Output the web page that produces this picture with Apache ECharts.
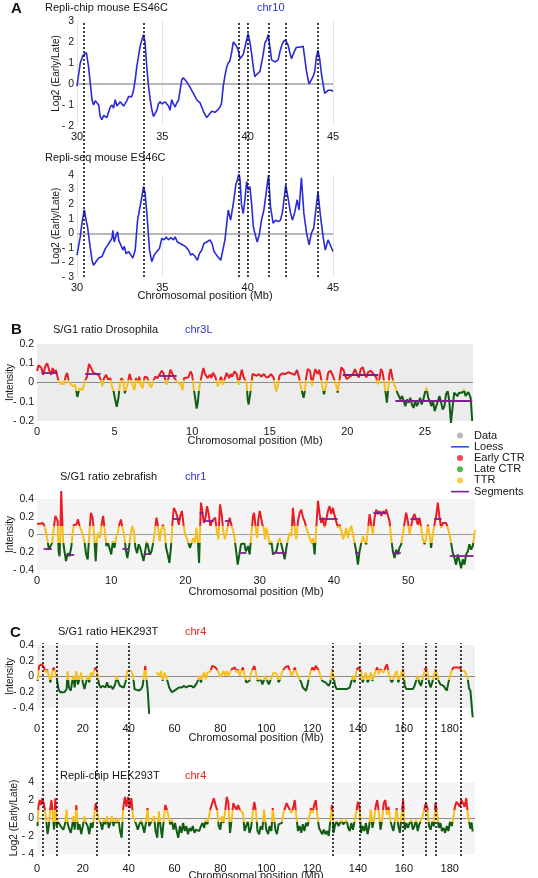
<!DOCTYPE html>
<html><head><meta charset="utf-8">
<script src="https://cdn.jsdelivr.net/npm/echarts@6/dist/echarts.min.js"></script>
<style>html,body{margin:0;padding:0;background:#fff}#c{width:538px;height:878px}</style>
</head><body><div id="c"></div>
<script>
// ---------------- DATA ----------------
const chipMouse = [[30.00,-0.1],[30.19,1.0],[30.35,1.35],[30.45,1.4],[30.55,1.5],[30.68,0.8],[30.88,-0.75],[30.97,-1.0],[31.07,-0.8],[31.17,-0.75],[31.27,-1.0],[31.36,-1.55],[31.46,-1.7],[31.56,-1.5],[31.66,-1.55],[31.75,-1.6],[31.85,-1.35],[31.95,-1.1],[32.05,-1.0],[32.14,-1.15],[32.24,-0.75],[32.34,-1.05],[32.44,-1.0],[32.53,-0.85],[32.63,-0.8],[32.73,-1.05],[32.82,-1.0],[32.92,-0.8],[33.02,-0.6],[33.11,-0.65],[33.21,-0.6],[33.31,-0.3],[33.41,0.2],[33.50,0.8],[33.60,1.3],[33.70,1.8],[33.80,2.1],[33.90,2.35],[33.99,1.95],[34.09,0.8],[34.19,-0.1],[34.29,-0.75],[34.38,-1.2],[34.48,-1.55],[34.58,-1.4],[34.68,-1.25],[34.77,-0.95],[34.87,-0.85],[34.97,-0.95],[35.07,-1.0],[35.16,-0.85],[35.26,-0.9],[35.36,-1.05],[35.45,-1.25],[35.55,-0.75],[35.65,-0.95],[35.75,-1.1],[35.84,-0.9],[35.94,-0.8],[36.04,-0.3],[36.14,0.2],[36.23,0.3],[36.33,0.25],[36.43,0.1],[36.53,0.05],[36.62,-0.15],[36.72,-0.3],[36.82,-0.45],[36.92,-0.6],[37.01,-0.75],[37.11,-0.8],[37.21,-0.9],[37.31,-1.1],[37.40,-1.3],[37.50,-1.45],[37.60,-1.6],[37.70,-1.5],[37.79,-1.4],[37.89,-1.3],[37.99,-1.25],[38.09,-1.35],[38.18,-1.3],[38.28,-1.2],[38.38,-1.1],[38.47,-0.9],[38.57,-0.1],[38.67,0.4],[38.77,0.8],[38.86,1.0],[38.96,1.1],[39.06,1.5],[39.16,2.0],[39.25,1.95],[39.35,1.8],[39.45,1.6],[39.55,1.2],[39.64,1.3],[39.74,1.4],[39.84,1.75],[39.94,2.1],[40.03,2.4],[40.13,2.0],[40.23,1.45],[40.33,0.8],[40.42,0.35],[40.52,0.45],[40.62,0.5],[40.72,0.6],[40.81,0.65],[40.91,1.4],[41.01,1.95],[41.11,2.1],[41.20,2.35],[41.30,1.8],[41.40,1.15],[41.50,1.1],[41.59,1.05],[41.69,1.1],[41.79,1.15],[41.88,1.5],[41.98,1.8],[42.08,2.0],[42.18,2.1],[42.27,2.0],[42.37,1.85],[42.47,1.5],[42.57,1.2],[42.66,1.4],[42.76,1.6],[42.86,1.75],[42.96,1.7],[43.05,1.75],[43.15,1.7],[43.25,1.8],[43.35,1.2],[43.44,0.65],[43.54,0.2],[43.60,0.0],[43.73,0.2],[43.83,0.35],[43.93,0.6],[44.03,1.3],[44.12,1.6],[44.22,1.2],[44.32,0.5],[44.42,0.0],[44.51,-0.45],[44.61,-0.4],[44.71,-0.3],[44.80,-0.35],[44.90,-0.3],[45.00,-0.35]];
const seqMouse = [[30.00,-1.5],[30.19,-0.25],[30.29,0.7],[30.43,1.6],[30.55,0.8],[30.62,0.45],[30.74,-0.7],[30.88,-1.85],[30.97,-2.2],[31.17,-1.85],[31.27,-1.7],[31.46,-1.6],[31.56,-1.5],[31.66,-1.05],[31.75,-0.9],[31.91,-0.6],[32.05,-0.35],[32.10,0.2],[32.18,-0.6],[32.30,-0.1],[32.38,0.1],[32.45,-0.5],[32.57,-0.8],[32.69,-1.15],[32.77,-0.9],[32.88,-1.4],[33.02,-1.25],[33.16,-1.5],[33.27,-1.7],[33.41,-1.15],[33.55,0.9],[33.66,1.0],[33.80,2.5],[33.90,3.2],[33.99,2.75],[34.09,1.4],[34.25,-1.15],[34.38,-1.95],[34.52,-1.5],[34.68,-1.25],[34.83,-1.05],[34.97,-0.35],[35.10,-0.45],[35.22,-0.25],[35.36,-0.45],[35.49,-0.3],[35.65,-0.45],[35.75,-0.25],[35.88,-0.6],[36.04,-0.7],[36.20,-0.8],[36.35,-0.9],[36.53,-1.15],[36.66,-1.5],[36.78,-1.4],[36.92,-1.6],[37.05,-1.85],[37.17,-1.4],[37.31,-1.15],[37.44,-0.7],[37.60,-0.6],[37.79,-0.45],[37.91,-0.7],[38.03,-1.25],[38.18,-1.5],[38.28,-1.6],[38.42,-1.85],[38.53,-1.85],[38.67,-0.45],[38.86,1.6],[39.00,0.9],[39.16,2.05],[39.31,3.35],[39.41,3.7],[39.49,4.15],[39.55,3.7],[39.64,1.95],[39.74,1.35],[39.84,2.3],[39.94,3.55],[40.03,3.0],[40.13,3.2],[40.23,2.05],[40.33,0.45],[40.42,0.0],[40.56,-0.6],[40.68,-0.1],[40.81,0.9],[40.95,1.6],[41.07,2.65],[41.22,4.0],[41.34,1.8],[41.49,0.7],[41.65,0.9],[41.79,0.8],[41.92,0.9],[42.04,1.45],[42.23,3.3],[42.37,2.4],[42.51,1.4],[42.62,0.9],[42.76,1.45],[42.90,2.3],[43.01,1.6],[43.15,3.8],[43.29,1.4],[43.44,0.1],[43.60,-0.8],[43.73,0.0],[43.87,0.35],[44.12,2.85],[44.26,1.25],[44.42,-0.25],[44.55,-1.15],[44.71,-0.45],[44.84,-0.8],[45.00,-1.25]];
const dashMouse = [30.39, 33.9, 39.47, 40.03, 41.22, 42.21, 44.09];

const droso = [[0.0,0.06],[0.1,0.09],[0.29,0.075],[0.39,0.04],[0.54,0.085],[0.66,0.1],[0.81,0.058],[0.91,0.04],[1.01,0.075],[1.12,0.05],[1.22,0.065],[1.36,0.014],[1.53,-0.01],[1.63,0.005],[1.74,-0.012],[1.84,0.03],[1.94,0.05],[2.05,0.005],[2.15,-0.004],[2.31,-0.02],[2.46,-0.012],[2.60,-0.075],[2.73,-0.03],[2.81,-0.02],[2.93,-0.04],[3.08,0.005],[3.22,0.03],[3.35,0.096],[3.49,0.075],[3.64,0.05],[3.80,0.044],[3.97,0.04],[4.11,0.014],[4.21,-0.02],[4.32,0.023],[4.46,0.04],[4.59,0.014],[4.73,0.023],[4.83,-0.02],[4.94,-0.047],[5.04,-0.09],[5.14,-0.126],[5.25,-0.08],[5.35,-0.004],[5.45,0.023],[5.56,0.005],[5.66,-0.056],[5.74,-0.065],[5.83,-0.012],[5.97,0.044],[6.07,0.014],[6.18,-0.02],[6.28,-0.04],[6.38,0.023],[6.49,-0.004],[6.59,0.03],[6.69,-0.012],[6.80,-0.03],[6.94,0.03],[7.11,0.026],[7.21,-0.004],[7.36,-0.026],[7.48,0.005],[7.62,0.03],[7.77,0.023],[7.89,0.04],[8.04,0.061],[8.14,0.05],[8.24,0.023],[8.35,-0.012],[8.45,0.014],[8.60,0.067],[8.72,0.058],[8.86,0.023],[9.01,0.005],[9.13,0.014],[9.28,-0.012],[9.38,-0.04],[9.48,0.023],[9.59,0.03],[9.75,0.026],[9.90,0.058],[10.00,0.04],[10.10,-0.028],[10.21,-0.09],[10.29,-0.135],[10.37,-0.1],[10.45,-0.03],[10.58,0.023],[10.72,0.075],[10.83,0.044],[10.99,0.023],[11.14,0.04],[11.24,0.023],[11.34,0.05],[11.49,0.03],[11.65,-0.02],[11.76,0.005],[11.86,0.03],[12.00,-0.012],[12.11,0.023],[12.23,0.05],[12.38,0.023],[12.48,0.044],[12.58,0.03],[12.73,0.058],[12.89,0.04],[13.00,-0.012],[13.10,0.03],[13.20,0.067],[13.31,0.03],[13.41,0.023],[13.51,-0.004],[13.58,-0.088],[13.64,-0.114],[13.74,-0.06],[13.89,0.044],[13.99,0.053],[14.16,0.035],[14.31,0.044],[14.45,0.03],[14.62,0.044],[14.79,0.026],[14.94,0.03],[15.08,0.044],[15.19,0.047],[15.25,0.026],[15.36,-0.026],[15.42,-0.044],[15.50,-0.026],[15.63,0.035],[15.78,0.047],[15.99,0.044],[16.19,0.053],[16.40,0.047],[16.61,0.04],[16.76,0.065],[16.89,0.026],[16.97,-0.009],[17.10,-0.053],[17.18,-0.079],[17.26,-0.044],[17.35,0.026],[17.45,0.07],[17.60,0.061],[17.73,-0.018],[17.81,0.026],[17.94,0.07],[18.08,0.044],[18.19,0.065],[18.29,0.03],[18.40,-0.026],[18.50,-0.061],[18.56,-0.053],[18.65,-0.009],[18.77,0.053],[18.92,0.061],[19.07,0.035],[19.19,0.026],[19.30,-0.018],[19.38,-0.053],[19.49,0.009],[19.61,0.079],[19.76,0.065],[19.86,0.035],[19.97,0.018],[20.07,0.009],[20.24,0.035],[20.39,0.047],[20.49,0.07],[20.62,0.044],[20.74,0.026],[20.87,0.07],[21.00,0.079],[21.12,0.044],[21.23,0.026],[21.33,0.053],[21.50,0.061],[21.65,0.047],[21.75,0.053],[21.86,0.026],[21.96,-0.009],[22.07,0.018],[22.17,0.07],[22.27,0.053],[22.38,0.0],[22.48,-0.061],[22.55,-0.105],[22.63,-0.044],[22.71,0.044],[22.80,0.07],[22.90,0.026],[23.01,-0.009],[23.11,-0.026],[23.22,-0.053],[23.32,-0.044],[23.43,-0.088],[23.53,-0.07],[23.64,-0.096],[23.74,-0.123],[23.85,-0.088],[23.95,-0.105],[24.06,-0.079],[24.16,-0.114],[24.27,-0.132],[24.37,-0.096],[24.48,-0.123],[24.58,-0.105],[24.69,-0.079],[24.79,-0.114],[24.90,-0.088],[25.00,-0.053],[25.10,-0.026],[25.21,-0.079],[25.31,-0.096],[25.42,-0.123],[25.52,-0.096],[25.63,-0.149],[25.73,-0.14],[25.84,-0.096],[25.94,-0.07],[26.05,-0.105],[26.15,-0.14],[26.26,-0.123],[26.36,-0.061],[26.47,-0.044],[26.57,-0.096],[26.68,-0.21],[26.78,-0.132],[26.89,-0.053],[26.99,-0.044],[27.10,-0.07],[27.20,-0.053],[27.31,-0.061],[27.41,-0.053],[27.52,-0.035],[27.62,-0.07],[27.8,-0.05],[27.95,-0.08],[28.05,-0.2]];
const drosoSegments = [[0.3,1.3,0.05],[3.1,4.1,0.045],[7.9,9.0,0.035],[19.7,22.0,0.04],[23.1,28.05,-0.093]];

const zebra = [[0.0,0.12],[0.2,0.11],[0.43,0.12],[0.74,0.13],[0.96,0.105],[1.17,0.04],[1.39,-0.055],[1.61,-0.17],[1.83,-0.15],[2.04,-0.095],[2.26,0.075],[2.48,0.21],[2.61,0.23],[2.78,0.15],[2.91,-0.19],[3.04,-0.245],[3.17,0.11],[3.26,0.49],[3.39,0.19],[3.52,-0.075],[3.70,-0.19],[3.91,-0.3],[4.13,-0.21],[4.35,-0.245],[4.61,-0.15],[4.78,0.0],[4.96,0.11],[5.13,0.13],[5.30,0.11],[5.52,0.17],[5.74,0.095],[5.96,0.11],[6.17,0.0],[6.39,-0.075],[6.61,-0.225],[6.83,-0.28],[7.04,0.0],[7.26,0.245],[7.48,0.19],[7.70,0.0],[7.91,-0.3],[8.04,-0.075],[8.26,0.02],[8.48,-0.04],[8.70,0.11],[8.91,0.21],[9.13,0.04],[9.35,-0.13],[9.57,-0.095],[9.78,-0.11],[10.00,-0.225],[10.22,-0.075],[10.43,-0.15],[10.65,-0.04],[10.87,0.02],[11.09,0.11],[11.30,0.17],[11.52,0.075],[11.74,0.0],[11.96,-0.17],[12.17,-0.265],[12.39,-0.15],[12.61,0.0],[12.83,0.095],[13.04,0.04],[13.26,-0.15],[13.48,-0.21],[13.70,-0.11],[13.91,-0.15],[14.13,-0.225],[14.35,-0.3],[14.57,-0.19],[14.78,-0.075],[15.00,-0.15],[15.22,-0.225],[15.43,-0.19],[15.65,-0.095],[15.87,0.04],[16.09,0.19],[16.30,0.095],[16.52,-0.075],[16.74,0.055],[16.96,0.11],[17.17,0.055],[17.39,-0.15],[17.61,-0.225],[17.83,-0.32],[18.04,-0.15],[18.26,0.15],[18.43,0.3],[18.65,0.265],[18.87,0.21],[19.09,0.11],[19.30,0.21],[19.52,0.265],[19.74,0.11],[19.96,0.0],[20.17,-0.04],[20.39,-0.095],[20.61,-0.15],[20.83,-0.13],[21.04,-0.04],[21.26,-0.095],[21.48,0.075],[21.70,-0.11],[21.83,-0.32],[21.96,0.04],[22.09,0.36],[22.26,0.265],[22.48,0.13],[22.70,0.19],[22.91,0.32],[23.13,0.23],[23.35,0.095],[23.57,0.15],[23.78,0.17],[24.00,0.19],[24.22,0.04],[24.43,-0.055],[24.65,0.34],[24.87,0.23],[25.09,0.04],[25.30,-0.055],[25.52,-0.075],[25.74,0.11],[25.96,0.19],[26.17,0.11],[26.39,0.055],[26.61,-0.04],[26.83,-0.19],[27.04,-0.34],[27.26,-0.225],[27.48,-0.11],[27.70,-0.13],[27.91,-0.095],[28.13,-0.19],[28.43,-0.13],[28.65,-0.225],[28.88,0.0],[29.10,0.21],[29.24,0.245],[29.46,0.075],[29.64,-0.04],[29.82,0.17],[30.00,0.265],[30.18,0.19],[30.36,0.11],[30.54,0.075],[30.72,-0.055],[30.90,0.075],[31.12,0.0],[31.35,-0.11],[31.57,-0.075],[31.79,-0.225],[32.02,-0.21],[32.24,-0.19],[32.47,-0.095],[32.69,-0.04],[32.91,-0.11],[33.14,-0.19],[33.36,-0.28],[33.59,-0.15],[33.81,-0.055],[34.04,0.02],[34.26,-0.02],[34.48,0.3],[34.71,0.075],[34.93,-0.055],[35.16,0.15],[35.38,0.245],[35.61,0.28],[35.83,0.19],[36.05,0.15],[36.28,0.075],[36.50,0.02],[36.73,-0.04],[36.95,-0.095],[37.17,-0.04],[37.40,-0.225],[37.62,0.075],[37.85,0.38],[38.07,0.23],[38.30,0.13],[38.52,0.19],[38.74,0.075],[38.97,0.17],[39.19,0.265],[39.42,0.32],[39.64,0.23],[39.87,0.3],[40.09,0.21],[40.31,0.19],[40.54,0.075],[40.76,0.11],[40.99,0.04],[41.21,-0.055],[41.43,0.0],[41.66,0.075],[41.88,-0.04],[42.11,0.055],[42.33,0.095],[42.56,0.0],[42.78,-0.095],[43.00,-0.19],[43.23,-0.34],[43.45,-0.19],[43.68,-0.095],[43.90,-0.02],[44.13,-0.075],[44.35,-0.11],[44.57,0.04],[44.80,0.23],[45.02,0.11],[45.25,0.0],[45.47,0.19],[45.70,0.28],[45.92,0.23],[46.14,0.265],[46.37,0.21],[46.59,0.265],[46.82,0.23],[47.04,0.28],[47.26,0.3],[47.49,0.15],[47.71,-0.04],[47.94,-0.19],[48.16,-0.265],[48.39,-0.17],[48.61,-0.225],[48.83,-0.15],[49.06,-0.11],[49.28,0.0],[49.51,0.13],[49.73,0.245],[49.96,0.15],[50.18,0.0],[50.40,0.095],[50.63,0.19],[50.85,0.23],[51.08,0.17],[51.30,0.11],[51.52,0.19],[51.75,0.075],[51.97,-0.055],[52.20,-0.11],[52.42,-0.04],[52.65,0.11],[52.87,0.0],[53.09,-0.15],[53.32,0.0],[53.54,0.11],[53.77,0.21],[53.99,0.36],[54.22,0.19],[54.44,0.075],[54.66,0.13],[54.89,0.11],[55.11,0.13],[55.34,0.075],[55.56,0.0],[55.78,-0.095],[56.01,-0.21],[56.23,-0.265],[56.46,-0.34],[56.68,-0.225],[56.91,-0.3],[57.13,-0.38],[57.35,-0.28],[57.58,-0.34],[57.80,-0.225],[58.03,-0.19],[58.25,-0.11],[58.48,-0.17],[58.70,-0.13],[59.0,0.05]];
const zebraSegments = [[0.9,2.0,-0.16],[4.0,5.0,-0.23],[11.5,12.4,-0.16],[14.4,15.2,-0.22],[18.3,19.3,0.18],[21.9,22.4,0.24],[22.5,23.8,0.15],[25.3,26.0,0.15],[27.4,28.2,-0.21],[31.8,33.6,-0.21],[38.0,40.5,0.18],[42.9,43.5,-0.2],[45.3,47.1,0.24],[47.9,49.0,-0.2],[50.3,51.5,0.18],[53.5,54.5,0.18],[55.6,58.8,-0.24]];

const hekSG1 = [[0.22,-0.055],[0.93,0.135],[2.06,0.155],[3.04,0.115],[3.75,0.05],[4.45,0.09],[5.16,0.01],[5.87,-0.075],[6.57,0.05],[7.28,0.115],[7.98,0.135],[8.69,-0.035],[9.39,-0.16],[10.10,-0.2],[10.80,-0.225],[11.93,-0.2],[12.92,-0.16],[13.34,0.07],[13.91,-0.14],[14.75,-0.18],[15.74,0.01],[16.45,-0.14],[17.15,0.07],[17.86,-0.1],[18.56,-0.12],[19.27,0.05],[19.98,-0.075],[20.68,-0.16],[21.39,-0.18],[22.09,0.01],[22.80,-0.075],[23.50,0.05],[24.21,0.01],[24.91,0.07],[25.62,0.115],[26.32,0.05],[27.03,-0.1],[27.74,-0.14],[28.86,-0.12],[29.85,-0.14],[30.56,-0.075],[31.26,-0.14],[32.25,-0.12],[33.10,-0.16],[34.09,-0.1],[34.79,0.01],[35.50,-0.075],[36.20,-0.12],[36.91,-0.12],[37.90,-0.14],[38.74,-0.055],[39.31,0.07],[40.15,0.09],[41.14,0.07],[41.85,0.01],[42.55,-0.16],[43.26,-0.18],[44.39,-0.18],[45.37,-0.16],[46.08,-0.12],[46.79,0.05],[47.21,0.135],[47.77,-0.035],[48.34,-0.2],[48.90,-0.475],[50.5,'-'],[52.01,0.05],[52.85,0.07],[53.42,0.01],[53.98,0.07],[54.83,-0.055],[55.67,0.05],[56.24,0.07],[57.08,-0.075],[57.65,-0.14],[58.78,-0.2],[59.91,-0.18],[60.89,-0.16],[61.88,-0.14],[63.01,-0.14],[64.14,-0.12],[65.13,-0.14],[66.12,-0.12],[67.25,-0.12],[68.37,-0.14],[69.36,-0.1],[70.07,-0.055],[70.77,0.01],[71.48,-0.075],[72.18,0.01],[72.89,0.05],[73.59,-0.035],[74.30,0.05],[75.01,0.03],[75.71,0.07],[76.42,0.135],[77.12,0.155],[77.83,0.115],[78.53,0.09],[79.24,0.05],[79.94,-0.01],[80.65,0.03],[81.35,0.07],[82.06,0.01],[82.76,0.07],[83.47,0.01],[84.18,0.03],[84.88,0.09],[85.59,0.07],[86.29,0.115],[87.00,0.05],[87.70,0.09],[88.41,0.01],[89.11,0.07],[89.82,0.115],[90.52,0.01],[91.23,-0.075],[91.94,-0.1],[92.64,-0.055],[93.35,0.05],[94.05,0.07],[94.76,0.135],[95.46,0.05],[96.17,-0.055],[96.87,-0.075],[97.58,-0.035],[98.28,-0.1],[98.99,-0.075],[99.70,0.01],[100.40,-0.055],[101.11,-0.1],[101.81,-0.075],[102.52,0.01],[103.22,0.05],[103.93,0.07],[104.63,0.03],[105.34,-0.075],[106.04,-0.035],[106.75,0.05],[107.46,0.07],[108.16,0.115],[108.87,0.09],[109.57,0.135],[110.28,0.07],[110.98,0.01],[111.69,0.05],[112.39,0.115],[113.10,0.05],[113.81,0.01],[114.51,-0.01],[115.22,-0.075],[115.92,-0.14],[116.63,-0.16],[117.33,-0.18],[118.04,-0.1],[118.74,0.01],[119.45,0.07],[120.15,0.115],[120.86,0.07],[121.57,0.135],[122.27,0.155],[122.98,0.07],[123.68,-0.01],[124.39,-0.055],[125.09,-0.035],[125.80,-0.075],[126.50,-0.1],[127.21,-0.12],[127.92,-0.075],[128.62,0.09],[129.33,-0.01],[130.03,-0.12],[130.74,-0.16],[131.44,-0.18],[132.15,-0.16],[132.85,-0.18],[133.56,-0.16],[134.26,-0.18],[134.97,-0.16],[135.68,-0.16],[136.38,-0.14],[137.09,-0.12],[137.79,0.01],[138.50,-0.075],[139.20,0.05],[139.91,0.115],[140.61,0.135],[141.32,0.07],[142.02,-0.075],[142.73,-0.055],[143.44,0.05],[144.14,-0.075],[144.85,-0.035],[145.55,0.05],[146.26,-0.055],[146.96,0.01],[147.67,0.07],[148.37,0.115],[149.08,0.03],[149.79,0.09],[150.49,0.07],[151.20,0.05],[151.90,0.115],[152.61,0.155],[153.31,0.05],[154.02,-0.035],[154.72,-0.075],[155.43,-0.035],[156.14,0.03],[156.84,0.07],[157.55,-0.075],[158.25,-0.1],[158.96,0.05],[159.66,0.09],[160.37,-0.12],[161.07,-0.16],[161.78,-0.14],[162.49,-0.16],[163.19,-0.14],[163.90,-0.16],[164.60,-0.12],[165.31,-0.1],[166.01,0.01],[166.72,-0.075],[167.42,-0.12],[168.13,-0.035],[168.84,0.05],[169.54,0.115],[170.25,0.05],[170.95,-0.075],[171.66,-0.14],[172.36,-0.075],[173.07,0.01],[173.77,0.09],[174.48,0.01],[175.19,-0.055],[175.89,-0.1],[176.60,-0.075],[177.30,-0.12],[178.01,-0.14],[178.71,-0.18],[179.42,-0.075],[180.12,0.01],[180.83,0.07],[181.54,0.115],[182.24,0.09],[182.95,0.115],[183.65,0.09],[184.36,0.115],[185.06,0.07],[185.77,0.09],[186.47,0.07],[187.18,0.05],[187.8,-0.02],[188.4,-0.15],[189.0,-0.18],[189.5,-0.2],[190.0,-0.52]];
const hekChip = [[0.22,-0.9],[0.64,1.3],[1.21,2.0],[1.77,1.45],[2.34,2.2],[2.90,1.65],[3.47,0.9],[4.03,-0.2],[4.60,-1.8],[5.16,-0.9],[5.72,0.9],[6.29,2.0],[6.85,0.55],[7.42,-1.3],[7.98,2.2],[8.55,-0.9],[9.11,-0.35],[9.68,-0.55],[10.24,-0.9],[10.80,-0.7],[11.51,-1.3],[12.21,-0.7],[12.92,0.9],[13.34,-0.55],[13.91,-1.1],[14.75,-1.65],[15.32,-0.9],[15.88,0.2],[16.45,-1.3],[17.15,1.45],[17.86,-1.3],[18.56,-0.7],[19.27,-1.8],[19.98,-0.9],[20.68,0.2],[21.39,-0.55],[22.09,-0.9],[22.80,-1.8],[23.50,-0.55],[24.21,-1.1],[24.91,0.2],[25.62,1.65],[26.32,0.55],[27.03,-0.2],[27.74,-0.55],[28.44,-1.3],[29.15,-0.2],[29.85,-0.7],[30.56,0.2],[31.26,-1.1],[31.97,-0.55],[32.68,0.2],[33.38,-0.9],[34.09,-0.2],[34.79,-0.55],[35.50,0.0],[36.20,-1.45],[36.91,-2.2],[37.61,1.1],[38.32,2.35],[39.02,1.25],[39.73,2.35],[40.44,1.1],[41.14,2.2],[41.85,0.2],[42.55,-0.2],[43.26,-0.7],[43.96,-1.3],[44.67,-0.7],[45.37,-0.2],[46.08,-0.9],[46.79,-1.65],[47.49,-0.55],[48.20,1.1],[48.90,-0.9],[49.61,-1.1],[50.31,-0.2],[51.02,0.2],[51.72,-1.45],[52.43,-2.2],[53.14,0.75],[53.84,-0.9],[54.55,-2.2],[55.25,-0.2],[55.96,1.45],[56.66,0.9],[57.37,0.2],[58.07,-0.7],[58.78,-0.2],[59.49,-1.3],[60.19,-0.55],[60.90,-1.45],[61.60,-2.2],[62.31,-0.9],[63.01,-1.65],[63.72,-0.55],[64.42,-1.45],[65.13,-0.9],[65.84,-1.8],[66.54,-1.1],[67.25,-1.45],[67.95,-0.9],[68.66,-1.65],[69.36,-1.3],[70.07,-1.1],[70.77,-1.45],[71.48,-0.9],[72.18,-0.55],[72.89,-1.1],[73.59,-0.2],[74.30,-0.7],[75.01,0.2],[75.71,1.1],[76.42,1.65],[77.12,2.2],[77.83,1.45],[78.53,0.9],[79.24,-0.9],[79.94,-1.3],[80.65,0.2],[81.35,-0.55],[82.06,0.75],[82.76,2.35],[83.47,1.65],[84.18,-1.65],[84.88,-0.2],[85.59,1.65],[86.29,1.25],[87.00,0.9],[87.70,1.45],[88.41,0.9],[89.11,1.1],[89.82,0.55],[90.52,-1.45],[91.23,-0.9],[91.94,-0.35],[92.64,-1.65],[93.35,-1.1],[94.05,0.55],[94.76,1.8],[95.46,0.75],[96.17,-1.45],[96.87,-1.8],[97.58,-0.9],[98.28,-1.3],[98.99,0.9],[99.41,1.1],[99.98,-1.3],[100.82,-1.8],[101.39,-0.9],[102.24,-1.45],[102.80,1.1],[103.37,0.0],[103.93,-1.3],[104.63,-1.8],[105.34,-0.7],[106.04,-0.9],[106.75,-0.55],[107.46,0.55],[108.16,1.1],[108.87,1.65],[109.57,1.25],[110.28,0.9],[110.98,0.55],[111.69,1.1],[112.39,2.0],[113.10,0.2],[113.81,-1.45],[114.51,-0.9],[115.22,-1.65],[115.92,-0.7],[116.63,-1.45],[117.33,-0.55],[118.04,-0.9],[118.74,0.2],[119.45,1.1],[120.15,0.55],[120.86,1.45],[121.57,2.0],[122.27,0.2],[122.98,-1.1],[123.68,-1.45],[124.39,-1.8],[125.09,-1.3],[125.80,-1.8],[126.50,-1.45],[127.21,-2.0],[127.92,-1.8],[128.62,1.45],[129.33,-1.65],[130.03,-0.7],[130.74,-0.35],[131.44,-0.9],[132.15,-0.55],[132.85,-0.2],[133.56,-0.7],[134.26,-0.9],[134.97,-0.2],[135.68,-1.1],[136.38,-1.45],[137.09,-0.55],[137.79,-1.3],[138.50,-0.35],[139.20,0.55],[139.91,1.8],[140.61,1.25],[141.32,-1.65],[142.02,-0.9],[142.73,-1.45],[143.44,-0.55],[144.14,-1.8],[144.85,-0.9],[145.55,0.9],[146.26,-1.1],[146.96,-0.2],[147.67,1.25],[148.37,2.0],[149.08,0.55],[149.79,-1.3],[150.49,-0.2],[151.20,1.65],[151.90,2.0],[152.61,0.35],[153.31,1.25],[154.02,-0.2],[154.72,-0.9],[155.43,-1.45],[156.14,-0.2],[156.84,1.1],[157.55,-0.9],[158.25,-1.65],[158.96,0.2],[159.66,2.0],[160.37,-1.3],[161.07,-0.55],[161.78,-1.1],[162.49,-0.55],[163.19,-0.2],[163.90,-1.3],[164.60,-0.9],[165.31,-0.2],[166.01,-1.45],[166.72,-0.7],[167.42,-0.2],[168.13,0.2],[168.84,0.9],[169.54,1.65],[170.25,1.1],[170.95,-0.9],[171.66,-1.3],[172.36,-0.35],[173.07,-0.9],[173.77,1.65],[174.48,0.55],[175.19,-1.1],[175.89,-0.55],[176.60,-1.45],[177.30,-1.1],[178.01,-1.65],[178.71,-0.9],[179.42,-1.45],[180.12,-0.35],[180.83,-0.9],[181.54,0.0],[182.24,1.25],[182.95,1.8],[183.65,1.65],[184.36,1.25],[185.06,2.0],[185.77,1.65],[186.47,1.25],[187.18,2.2],[187.9,0.3],[188.5,-0.5],[189.0,-1.2],[189.5,-0.5],[190.0,-1.5]];
const dashHek = [2.62, 8.41, 26.04, 39.87, 128.9, 140.6, 159.7, 169.5, 174.1, 184.8];

const legendNames = ['Data', 'Loess', 'Early CTR', 'Late CTR', 'TTR', 'Segments'];

// ---------------- STYLE ----------------
const FONT = '"Liberation Sans", Arial, Helvetica, sans-serif';
const RED = '#ec1c24', ORANGE = '#f7bf1e', GREEN = '#0f5e14', BLUE = '#2a2ad8', PURPLE = '#7d1f8e';
const TXT = '#151515';
const LINE_ICON = 'path://M0,0M18,6M0,2.2L18,2.2L18,3.8L0,3.8Z';
function fmt(v) { const r = Math.round(v * 100) / 100; return r < 0 ? '- ' + Math.abs(r) : String(r); }

const gBase = {outerBoundsMode: 'none', containLabel: false};
const grids = [
  {left: 77, top: 21, width: 256, height: 105},
  {left: 77, top: 175, width: 256, height: 102},
  {left: 77, top: 22, width: 256, height: 255},
  {left: 37, top: 344, width: 436, height: 77, show: true, backgroundColor: '#ececec', borderWidth: 0},
  {left: 37, top: 499, width: 438, height: 71, show: true, backgroundColor: '#f4f4f4', borderWidth: 0},
  {left: 37, top: 645, width: 438, height: 63, show: true, backgroundColor: '#f1f1f1', borderWidth: 0},
  {left: 37, top: 782, width: 438, height: 72, show: true, backgroundColor: '#f5f5f5', borderWidth: 0},
  {left: 37, top: 643, width: 438, height: 213}
].map(g => Object.assign({}, gBase, g));

function xAx(gi, min, max, interval, o) {
  o = o || {};
  return {
    type: 'value', gridIndex: gi, min: min, max: max, interval: interval, show: !o.hidden,
    axisLine: {show: false}, axisTick: {show: false},
    splitLine: o.split ? {show: true, lineStyle: {color: '#e4e4e4', width: 1}} : {show: false},
    axisLabel: {fontSize: 11, color: TXT, fontFamily: FONT, margin: o.margin || 5, showMaxLabel: o.maxLabel !== false},
    name: o.name || '', nameLocation: 'middle', nameGap: o.nameGap || 14, nameMoveOverlap: false,
    nameTextStyle: {fontSize: 11, color: TXT, fontFamily: FONT}
  };
}
function yAx(gi, min, max, interval, o) {
  o = o || {};
  return {
    type: 'value', gridIndex: gi, min: min, max: max, interval: interval, show: !o.hidden,
    axisLine: {show: false}, axisTick: {show: false}, splitLine: {show: false},
    axisLabel: {fontSize: 10.5, color: TXT, fontFamily: FONT, margin: 3, formatter: fmt},
    name: o.name || '', nameLocation: 'middle', nameGap: o.nameGap || 14, nameMoveOverlap: false,
    nameTextStyle: {fontSize: 10, color: TXT, fontFamily: FONT}
  };
}
const xAxes = [
  xAx(0, 30, 45, 5, {split: true, margin: 5}),
  xAx(1, 30, 45, 5, {split: true, margin: 5, name: 'Chromosomal position (Mb)', nameGap: 13}),
  xAx(2, 30, 45, 5, {hidden: true}),
  xAx(3, 0, 28.1, 5, {maxLabel: false, name: 'Chromosomal position (Mb)', nameGap: 14}),
  xAx(4, 0, 59, 10, {maxLabel: false, name: 'Chromosomal position (Mb)', nameGap: 16}),
  xAx(5, 0, 191, 20, {maxLabel: false, margin: 15, name: 'Chromosomal position (Mb)', nameGap: 24}),
  xAx(6, 0, 191, 20, {maxLabel: false, margin: 9, name: 'Chromosomal position (Mb)', nameGap: 16}),
  xAx(7, 0, 191, 20, {hidden: true})
];
const yAxes = [
  yAx(0, -2, 3, 1, {name: 'Log2 (Early/Late)', nameGap: 16}),
  yAx(1, -3, 4, 1, {name: 'Log2 (Early/Late)', nameGap: 16}),
  yAx(2, 0, 1, 1, {hidden: true}),
  yAx(3, -0.2, 0.2, 0.1, {name: 'Intensity', nameGap: 22}),
  yAx(4, -0.4, 0.4, 0.2, {name: 'Intensity', nameGap: 22}),
  yAx(5, -0.4, 0.4, 0.2, {name: 'Intensity', nameGap: 22}),
  yAx(6, -4, 4, 2, {name: 'Log2 (Early/Late)', nameGap: 18}),
  yAx(7, 0, 1, 1, {hidden: true})
];

const series = [];
function add(s) { series.push(s); return series.length - 1; }
function zeroLine(gi, color, width) {
  add({type: 'line', xAxisIndex: gi, yAxisIndex: gi, data: [], silent: true, z: 1,
    markLine: {silent: true, z: 1, symbol: ['none', 'none'], label: {show: false}, animation: false,
      lineStyle: {color: color, width: width, type: 'solid'}, data: [{yAxis: 0}]}});
}
function dashes(gi, vals) {
  add({type: 'line', xAxisIndex: gi, yAxisIndex: gi, data: [], silent: true,
    markLine: {silent: true, symbol: ['none', 'none'], label: {show: false}, animation: false,
      lineStyle: {color: '#111', width: 1.6, type: [2, 2]}, data: vals.map(v => ({xAxis: v}))}});
}
function segs(gi, list, name) {
  add({type: 'line', name: name, xAxisIndex: gi, yAxisIndex: gi, data: [], symbol: 'none', silent: true,
    lineStyle: {color: PURPLE, width: 2}, itemStyle: {color: PURPLE},
    markLine: {silent: true, symbol: ['none', 'none'], label: {show: false}, animation: false,
      lineStyle: {color: PURPLE, width: 1.8, type: 'solid'},
      data: list.map(s => [{coord: [s[0], s[2]]}, {coord: [s[1], s[2]]}])}});
}

zeroLine(0, '#b8b8b8', 2);
zeroLine(1, '#b8b8b8', 2);
zeroLine(3, '#8a8a8a', 1);
zeroLine(4, '#9a9a9a', 1.2);
zeroLine(5, '#8a8a8a', 1.2);
zeroLine(6, '#8a8a8a', 1.2);

add({type: 'line', xAxisIndex: 0, yAxisIndex: 0, data: chipMouse, symbol: 'none', z: 3, silent: true,
  lineStyle: {color: BLUE, width: 1.6}});
add({type: 'line', xAxisIndex: 1, yAxisIndex: 1, data: seqMouse, symbol: 'none', z: 3, silent: true,
  lineStyle: {color: BLUE, width: 1.6}});
dashes(2, dashMouse);

function colored(gi, data) {
  return add({type: 'line', xAxisIndex: gi, yAxisIndex: gi, data: data, symbol: 'none', clip: false,
    z: 3, silent: true, connectNulls: false, lineStyle: {width: 2}});
}
const sB1 = colored(3, droso);
const sB2 = colored(4, zebra);
const sC1 = colored(5, hekSG1);
const sC2 = colored(6, hekChip);
segs(3, drosoSegments, 'Segments');
segs(4, zebraSegments, 'Segments');
dashes(7, dashHek);

// legend-only series (empty)
add({type: 'scatter', name: 'Data', xAxisIndex: 3, yAxisIndex: 3, data: [], itemStyle: {color: '#a9a9a9'}});
add({type: 'line', name: 'Loess', xAxisIndex: 3, yAxisIndex: 3, data: [], symbol: 'none', lineStyle: {color: '#2f50d8', width: 2}, itemStyle: {color: '#2f50d8'}});
add({type: 'scatter', name: 'Early CTR', xAxisIndex: 3, yAxisIndex: 3, data: [], itemStyle: {color: RED}});
add({type: 'scatter', name: 'Late CTR', xAxisIndex: 3, yAxisIndex: 3, data: [], itemStyle: {color: '#25a825'}});
add({type: 'scatter', name: 'TTR', xAxisIndex: 3, yAxisIndex: 3, data: [], itemStyle: {color: ORANGE}});

function vm(idx, lo, hi) {
  return {type: 'piecewise', show: false, seriesIndex: idx, dimension: 1,
    pieces: [{gt: hi, color: RED}, {gte: lo, lte: hi, color: ORANGE}, {lt: lo, color: GREEN}]};
}

function T(text, left, top, o) {
  return Object.assign({text: text, left: left, top: top, padding: 0,
    textStyle: {fontSize: 11, fontWeight: 'normal', color: TXT, fontFamily: FONT}}, o || {});
}
const bold = {textStyle: {fontSize: 15, fontWeight: 'bold', color: '#111', fontFamily: FONT}};
const blue = {textStyle: {fontSize: 11, fontWeight: 'normal', color: '#3030e0', fontFamily: FONT}};
const red = {textStyle: {fontSize: 11, fontWeight: 'normal', color: '#ee2020', fontFamily: FONT}};

const legendData = legendNames.map(n => (n === 'Loess' || n === 'Segments') ? {name: n, icon: LINE_ICON} : {name: n, icon: 'circle'});

const option = {
  animation: false,
  backgroundColor: '#ffffff',
  title: [
    T('A', 11, 1, bold), T('Repli-chip mouse ES46C', 45, 2.5), T('chr10', 257, 2.5, blue),
    T('Repli-seq mouse ES46C', 45, 152.5),
    T('B', 11, 322, bold), T('S/G1 ratio Drosophila', 53, 324.5), T('chr3L', 185, 324.5, blue),
    T('S/G1 ratio zebrafish', 60, 471.5), T('chr1', 185, 471.5, blue),
    T('C', 10, 625, bold), T('S/G1 ratio HEK293T', 58, 626.5), T('chr4', 185, 626.5, red),
    T('Repli-chip HEK293T', 60, 770.5), T('chr4', 185, 770.5, red)
  ],
  legend: {orient: 'vertical', left: 451, top: 430, itemWidth: 18, itemHeight: 6, itemGap: 0, padding: 0,
    selectedMode: false, data: legendData,
    textStyle: {fontSize: 11, color: TXT, fontFamily: FONT, lineHeight: 11.2}},
  grid: grids,
  xAxis: xAxes,
  yAxis: yAxes,
  visualMap: [vm(sB1, -0.045, 0.015), vm(sB2, -0.1, 0.1), vm(sC1, -0.05, 0.08), vm(sC2, -0.4, 0.9)],
  series: series
};
const chart = echarts.init(document.getElementById('c'), null, {renderer: 'canvas'});
chart.setOption(option);
</script></body></html>
